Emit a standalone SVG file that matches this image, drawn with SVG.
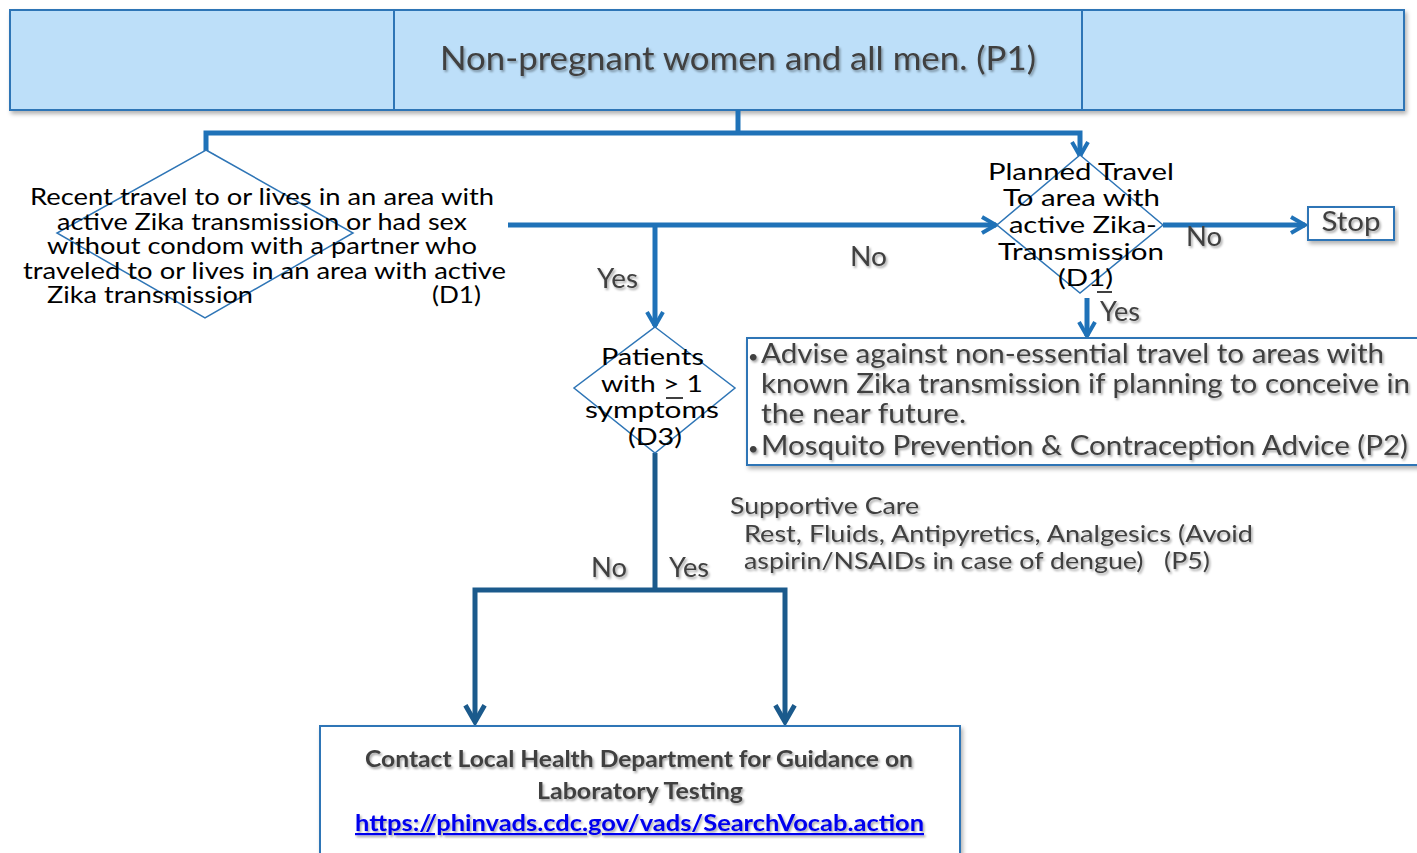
<svg xmlns="http://www.w3.org/2000/svg" width="1417" height="853" viewBox="0 0 1417 853">
<style>
.box{fill:#BDDFF9;stroke:#2E75B6;stroke-width:2}
.wbox{fill:#ffffff;stroke:#2E75B6;stroke-width:2}
.dia{fill:#ffffff;stroke:#2E75B6;stroke-width:1.5}
.blk{font-family:Lato,"Liberation Sans",sans-serif;fill:#000000}
.gry{font-family:Lato,"Liberation Sans",sans-serif;fill:#404040}
.con{fill:none;stroke:#1F72B8;stroke-width:5}
.dcon{fill:none;stroke:#1B5A8C;stroke-width:5}
</style>
<defs>
<filter id="sh" x="-5%" y="-5%" width="110%" height="130%">
<feDropShadow dx="2" dy="3" stdDeviation="2" flood-color="#000000" flood-opacity="0.3"/>
</filter>
<filter id="tsh" x="-5%" y="-20%" width="110%" height="150%">
<feDropShadow dx="1.5" dy="2" stdDeviation="1.2" flood-color="#000000" flood-opacity="0.35"/>
</filter>
<marker id="ah" viewBox="0 0 20 20" refX="17" refY="10" markerWidth="20" markerHeight="20" markerUnits="userSpaceOnUse" orient="auto">
<path d="M3,2 L17,10 L3,18" fill="none" stroke="#1F72B8" stroke-width="4" stroke-linejoin="miter"/>
</marker>
<marker id="ahd" viewBox="0 0 20 20" refX="17" refY="10" markerWidth="24" markerHeight="24" markerUnits="userSpaceOnUse" orient="auto">
<path d="M3,2 L17,10 L3,18" fill="none" stroke="#1B5A8C" stroke-width="4" stroke-linejoin="miter"/>
</marker>
</defs>
<rect width="1417" height="853" fill="#ffffff"/>

<g id="p1" filter="url(#sh)">
<rect class="box" x="10" y="10" width="1394" height="100"/>
<rect class="box" x="394" y="10" width="688" height="100"/>
</g>
<text class="gry" x="738" y="70" font-size="32" text-anchor="middle" textLength="596" lengthAdjust="spacingAndGlyphs" filter="url(#tsh)">Non-pregnant women and all men. (P1)</text>

<g id="connectors">
<path class="con" d="M738,110 V133"/>
<path class="con" d="M738,133 H206 V168" marker-end="url(#ah)"/>
<path class="con" d="M738,133 H1080 V156" marker-end="url(#ah)"/>
<path class="con" d="M508,225 H996" marker-end="url(#ah)"/>
<path class="con" d="M655,225 V326" marker-end="url(#ah)"/>
<path class="con" d="M1163,225 H1305" marker-end="url(#ah)"/>
<path class="con" d="M1087,298 V336" marker-end="url(#ah)"/>
<path class="dcon" d="M655,453 V590"/>
<path class="dcon" d="M655,590 H475 V722" marker-end="url(#ahd)"/>
<path class="dcon" d="M655,590 H785 V722" marker-end="url(#ahd)"/>
</g>

<g id="d1">
<polygon class="dia" points="206,150 353,233 205,318 57,233"/>
<text class="blk" font-size="23" text-anchor="middle">
<tspan x="265" y="205" textLength="464" lengthAdjust="spacingAndGlyphs">Recent travel to or lives in an area with</tspan>
<tspan x="265" y="230" textLength="410" lengthAdjust="spacingAndGlyphs">active Zika transmission or had sex</tspan>
<tspan x="265" y="254" textLength="430" lengthAdjust="spacingAndGlyphs">without condom with a partner who</tspan>
<tspan x="264.5" y="279" textLength="483" lengthAdjust="spacingAndGlyphs">traveled to or lives in an area with active</tspan>
</text>
<text class="blk" font-size="23" x="47" y="303" textLength="206" lengthAdjust="spacingAndGlyphs">Zika transmission</text>
<text class="blk" font-size="23" x="432" y="303" textLength="49" lengthAdjust="spacingAndGlyphs">(D1)</text>
</g>

<g id="d1b">
<polygon class="dia" points="1080,155 1163,225 1080,293 997,225"/>
<text class="blk" font-size="24" text-anchor="middle">
<tspan x="1084" y="180" textLength="186" lengthAdjust="spacingAndGlyphs">Planned Travel</tspan>
<tspan x="1084.5" y="206" textLength="157" lengthAdjust="spacingAndGlyphs">To area with</tspan>
<tspan x="1086" y="233" textLength="148" lengthAdjust="spacingAndGlyphs">active Zika-</tspan>
<tspan x="1084" y="260" textLength="166" lengthAdjust="spacingAndGlyphs">Transmission</tspan>
<tspan x="1085.5" y="286" textLength="55" lengthAdjust="spacingAndGlyphs">(D1)</tspan>
</text>
<line x1="1097" y1="292" x2="1112" y2="292" stroke="#000000" stroke-width="1.5"/>
</g>

<g id="stop">
<rect class="wbox" x="1308" y="207" width="86" height="33" filter="url(#sh)"/>
<text class="gry" x="1351" y="231" font-size="26" text-anchor="middle" textLength="59" lengthAdjust="spacingAndGlyphs" filter="url(#tsh)">Stop</text>
</g>

<g id="p2">
<rect class="wbox" x="747" y="338" width="680" height="127" filter="url(#sh)"/>
<g class="gry" font-size="26" filter="url(#tsh)">
<text x="748" y="363" font-size="18">•</text>
<text x="761" y="363" textLength="623" lengthAdjust="spacingAndGlyphs">Advise against non-essential travel to areas with</text>
<text x="761" y="393" textLength="649" lengthAdjust="spacingAndGlyphs">known Zika transmission if planning to conceive in</text>
<text x="761" y="423" textLength="205" lengthAdjust="spacingAndGlyphs">the near future.</text>
<text x="748" y="455" font-size="18">•</text>
<text x="761" y="455" textLength="647" lengthAdjust="spacingAndGlyphs">Mosquito Prevention &amp; Contraception Advice (P2)</text>
</g>
</g>

<g id="d3">
<polygon class="dia" points="655,327 735,388 655,453 574,388"/>
<text class="blk" font-size="24" text-anchor="middle">
<tspan x="655.5" y="365" textLength="103" lengthAdjust="spacingAndGlyphs">Patients</tspan>
<tspan x="655" y="392" textLength="102" lengthAdjust="spacingAndGlyphs">with &gt; 1</tspan>
<tspan x="655" y="418" textLength="134" lengthAdjust="spacingAndGlyphs">symptoms</tspan>
<tspan x="655" y="445" textLength="54" lengthAdjust="spacingAndGlyphs">(D3)</tspan>
</text>
<line x1="666" y1="398" x2="683" y2="398" stroke="#000000" stroke-width="1.5"/>
</g>

<g id="labels" class="gry" font-size="26" filter="url(#tsh)">
<text x="597" y="288" textLength="41" lengthAdjust="spacingAndGlyphs">Yes</text>
<text x="850" y="266" textLength="37" lengthAdjust="spacingAndGlyphs">No</text>
<text x="1186" y="246" textLength="36" lengthAdjust="spacingAndGlyphs">No</text>
<text x="1100" y="321" textLength="40" lengthAdjust="spacingAndGlyphs">Yes</text>
<text x="591" y="577" textLength="36" lengthAdjust="spacingAndGlyphs">No</text>
<text x="669" y="577" textLength="40" lengthAdjust="spacingAndGlyphs">Yes</text>
</g>

<g id="p5" class="gry" font-size="24" filter="url(#tsh)">
<text x="730" y="514" textLength="189" lengthAdjust="spacingAndGlyphs">Supportive Care</text>
<text x="744" y="542" textLength="509" lengthAdjust="spacingAndGlyphs">Rest, Fluids, Antipyretics, Analgesics (Avoid</text>
<text x="744" y="569" textLength="466" lengthAdjust="spacingAndGlyphs" xml:space="preserve">aspirin/NSAIDs in case of dengue)   (P5)</text>
</g>

<g id="lab">
<rect class="wbox" x="320" y="726" width="640" height="140" filter="url(#sh)"/>
<g font-family="Lato,'Liberation Sans',sans-serif" font-weight="bold" font-size="22" text-anchor="middle" filter="url(#tsh)">
<text x="639" y="767" fill="#404040" textLength="548" lengthAdjust="spacingAndGlyphs">Contact Local Health Department for Guidance on</text>
<text x="640" y="799" fill="#404040" textLength="206" lengthAdjust="spacingAndGlyphs">Laboratory Testing</text>
<text x="639.5" y="831" fill="#0000EE" text-decoration="underline" textLength="569" lengthAdjust="spacingAndGlyphs">https://phinvads.cdc.gov/vads/SearchVocab.action</text>
</g>
</g>
</svg>
